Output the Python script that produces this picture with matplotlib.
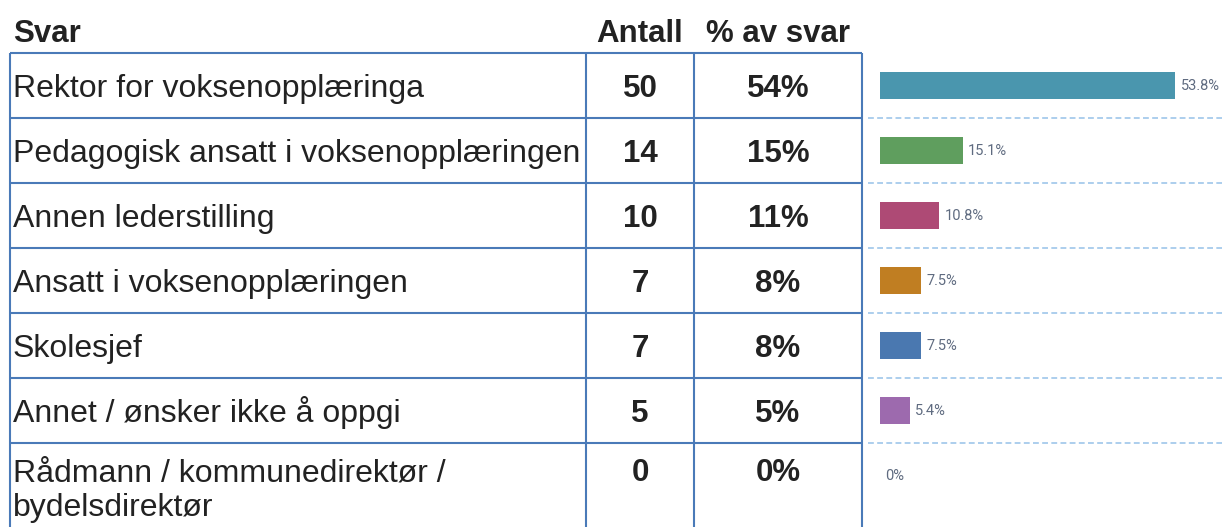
import matplotlib.pyplot as plt

plt.rcParams['font.family'] = ['Liberation Sans', 'DejaVu Sans']

# data
svar = ["Rektor for voksenopplæringa",
        "Pedagogisk ansatt i voksenopplæringen",
        "Annen lederstilling",
        "Ansatt i voksenopplæringen",
        "Skolesjef",
        "Annet / ønsker ikke å oppgi",
        "Rådmann / kommunedirektør /\nbydelsdirektør"]
antall = [50, 14, 10, 7, 7, 5, 0]
pct_rounded = ["54%", "15%", "11%", "8%", "8%", "5%", "0%"]
pct = [53.8, 15.1, 10.8, 7.5, 7.5, 5.4, 0]
bar_labels = ["53.8%", "15.1%", "10.8%", "7.5%", "7.5%", "5.4%", "0%"]
colors = ["#4a96ae", "#5f9e5e", "#ae4a75", "#c07e22", "#4a78b0", "#9d6aae", "#cccccc"]

W, H = 1222, 527
fig = plt.figure(figsize=(W / 100, H / 100), dpi=100)

# table axes in pixel coordinates
ax = fig.add_axes([0, 0, 1, 1])
ax.set_xlim(0, W)
ax.set_ylim(H, 0)
ax.axis('off')

blue = "#4a7ab8"
txt = "#222222"
fs = 22.5      # header + numbers
fs_lab = 23    # answer labels
top, rowh = 53, 65
x_left, x_c1, x_c2, x_right = 10, 586, 694, 862

# header
ax.text(13, 42, "Svar", fontsize=fs, fontweight='bold', color=txt, va='baseline', ha='left')
ax.text(640, 42, "Antall", fontsize=fs, fontweight='bold', color=txt, va='baseline', ha='center')
ax.text(778, 42, "% av svar", fontsize=fs, fontweight='bold', color=txt, va='baseline', ha='center')

# grid lines
for i in range(len(svar)):
    y = top + i * rowh
    ax.plot([x_left, x_right], [y, y], color=blue, lw=1.5, solid_capstyle='butt')
for x in [x_left, x_c1, x_c2, x_right]:
    ax.plot([x, x], [top, H], color=blue, lw=1.5, solid_capstyle='butt')

# row text
for i, (s, n, p) in enumerate(zip(svar, antall, pct_rounded)):
    yb = top + i * rowh + 44
    if "\n" in s:
        yb = top + i * rowh + 38
        l1, l2 = s.split("\n")
        ax.text(13, yb, l1, fontsize=fs_lab, color=txt, va='baseline', ha='left')
        ax.text(13, yb + 35, l2, fontsize=fs_lab, color=txt, va='baseline', ha='left')
    else:
        ax.text(13, yb, s, fontsize=fs_lab, color=txt, va='baseline', ha='left')
    ax.text(640, yb, str(n), fontsize=fs, fontweight='bold', color=txt, va='baseline', ha='center')
    ax.text(778, yb, p, fontsize=fs, fontweight='bold', color=txt, va='baseline', ha='center')

# bar axes
bx0, bx1 = 868, W
bax = fig.add_axes([bx0 / W, 0, (bx1 - bx0) / W, (H - top) / H])
pxper = 295 / 53.8
xmin = -(880 - bx0) / pxper
bax.set_xlim(xmin, xmin + (bx1 - bx0) / pxper)
nrows = (H - top) / rowh
bax.set_ylim(nrows, 0)
bax.axis('off')
bax.patch.set_alpha(0)

ypos = [i + 0.5 for i in range(len(pct))]
bax.barh(ypos, pct, height=0.43, color=colors, linewidth=0)
for y, v, lab in zip(ypos, pct, bar_labels):
    bax.text(v + 1.0, y, lab, fontsize=10.5, family=['Roboto', 'DejaVu Sans'],
             color="#5f6b80", va='center', ha='left')
for i in range(1, len(pct)):
    bax.axhline(i, color="#9ec6ea", lw=1.2, ls=(0, (3.5, 2)))

fig.savefig("out.png", dpi=100)
